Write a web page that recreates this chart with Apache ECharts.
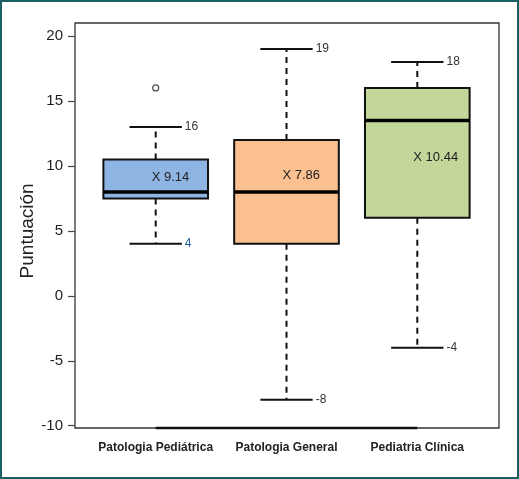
<!DOCTYPE html>
<html>
<head>
<meta charset="utf-8">
<script src="https://cdn.jsdelivr.net/npm/echarts@6/dist/echarts.min.js"></script>
<style>
  html, body { margin: 0; padding: 0; background: #fff; }
  #main { width: 519px; height: 479px; }
</style>
</head>
<body>
<div id="main"></div>
<script>
// datos del gráfico
var categorias = ['Patologia Pediátrica', 'Patologia General', 'Pediatria Clínica'];
var bigoteMin = [4, -8, -4];
var q1 = [7.5, 4, 6];
var mediana = [8, 8, 13.5];
var q3 = [10.5, 12, 16];
var bigoteMax = [13, 19, 18];
var medias = [9.14, 7.86, 10.44];
var etiquetaMax = ['16', '19', '18'];
var etiquetaMin = ['4', '-8', '-4'];
var atipicos = [[0, 16]];

var colores = ['#8db4e2', '#fac090', '#c4d79b'];
var colorEtiqMin = ['#1f5fa8', '#333', '#333'];
var desplMedia = [0, -18, -3];

var cajas = categorias.map(function (c, i) {
    return [i, bigoteMin[i], q1[i], mediana[i], q3[i], bigoteMax[i]];
});

function renderCaja(params, api) {
    var i = api.value(0);
    var pMin = api.coord([i, api.value(1)]);
    var pQ1 = api.coord([i, api.value(2)]);
    var pMed = api.coord([i, api.value(3)]);
    var pQ3 = api.coord([i, api.value(4)]);
    var pMax = api.coord([i, api.value(5)]);
    var pMedia = api.coord([i, medias[i]]);
    var w = api.size([1, 0])[0];
    var bw = w * 0.8, cw = w * 0.4;
    var cx = pMed[0];
    var txt = { fontFamily: 'Liberation Sans, Arial', fontSize: 12 };
    return {
        type: 'group',
        children: [
            { type: 'line', shape: { x1: cx, y1: pQ3[1], x2: cx, y2: pMax[1] },
              style: { stroke: '#111', lineWidth: 2, lineDash: [6, 5] } },
            { type: 'line', shape: { x1: cx, y1: pQ1[1], x2: cx, y2: pMin[1] },
              style: { stroke: '#111', lineWidth: 2, lineDash: [6, 5] } },
            { type: 'line', shape: { x1: cx - cw / 2, y1: pMax[1], x2: cx + cw / 2, y2: pMax[1] },
              style: { stroke: '#111', lineWidth: 2 } },
            { type: 'line', shape: { x1: cx - cw / 2, y1: pMin[1], x2: cx + cw / 2, y2: pMin[1] },
              style: { stroke: '#111', lineWidth: 2 } },
            { type: 'rect', shape: { x: cx - bw / 2, y: pQ3[1], width: bw, height: pQ1[1] - pQ3[1] },
              style: { fill: colores[i], stroke: '#111', lineWidth: 2 } },
            { type: 'line', shape: { x1: cx - bw / 2, y1: pMed[1], x2: cx + bw / 2, y2: pMed[1] },
              style: { stroke: '#000', lineWidth: 3.5 } },
            { type: 'text', x: cx + cw / 2 + 3, y: pMax[1],
              style: Object.assign({ text: etiquetaMax[i], fill: '#333', verticalAlign: 'middle' }, txt) },
            { type: 'text', x: cx + cw / 2 + 3, y: pMin[1],
              style: Object.assign({ text: etiquetaMin[i], fill: colorEtiqMin[i], verticalAlign: 'middle' }, txt) },
            { type: 'text', x: cx - 4, y: pMedia[1] + desplMedia[i],
              style: { text: 'X ' + medias[i], fill: '#222', verticalAlign: 'middle',
                       fontFamily: 'Liberation Sans, Arial', fontSize: 13 } }
        ]
    };
}

var myChart = echarts.init(document.getElementById('main'));
var option = {
    animation: false,
    backgroundColor: '#fff',
    grid: { left: 90.3, right: 36.3, top: 36, bottom: 53.3 },
    xAxis: {
        type: 'category',
        data: categorias,
        offset: 2,
        axisLine: { show: false },
        axisTick: { alignWithLabel: true, length: 6, lineStyle: { color: '#333', width: 1.2 } },
        axisLabel: { interval: 0, hideOverlap: false, color: '#222', fontWeight: 'bold', fontSize: 12,
                     margin: 14, fontFamily: 'Liberation Sans, Arial' },
        splitLine: { show: false }
    },
    yAxis: {
        type: 'value',
        min: -10,
        max: 20,
        interval: 5,
        offset: 15.3,
        name: 'Puntuación',
        nameLocation: 'middle',
        nameGap: 38,
        nameMoveOverlap: false,
        nameTextStyle: { fontSize: 19, color: '#222', fontFamily: 'Liberation Sans, Arial' },
        axisLine: { show: false },
        axisTick: { show: true, length: 7, lineStyle: { color: '#444', width: 1.2 } },
        axisLabel: { color: '#222', fontSize: 15, margin: 12, fontFamily: 'Liberation Sans, Arial' },
        splitLine: { show: false }
    },
    graphic: [
        { type: 'rect', shape: { x: 1, y: 1, width: 517, height: 477 },
          style: { fill: 'none', stroke: '#1b5f63', lineWidth: 2 } },
        { type: 'rect', shape: { x: 75, y: 23, width: 424, height: 405 },
          style: { fill: 'none', stroke: '#333', lineWidth: 1.3 } },
        { type: 'line', shape: { x1: 155.7, y1: 428, x2: 417.3, y2: 428 },
          style: { stroke: '#111', lineWidth: 2.5 } }
    ],
    series: [
        {
            type: 'custom',
            renderItem: renderCaja,
            encode: { x: 0, y: [1, 2, 3, 4, 5] },
            data: cajas
        },
        {
            type: 'scatter',
            symbol: 'circle',
            symbolSize: 6,
            itemStyle: { color: '#fff', borderColor: '#222', borderWidth: 1.2 },
            data: atipicos
        }
    ]
};
myChart.setOption(option);
</script>
</body>
</html>
